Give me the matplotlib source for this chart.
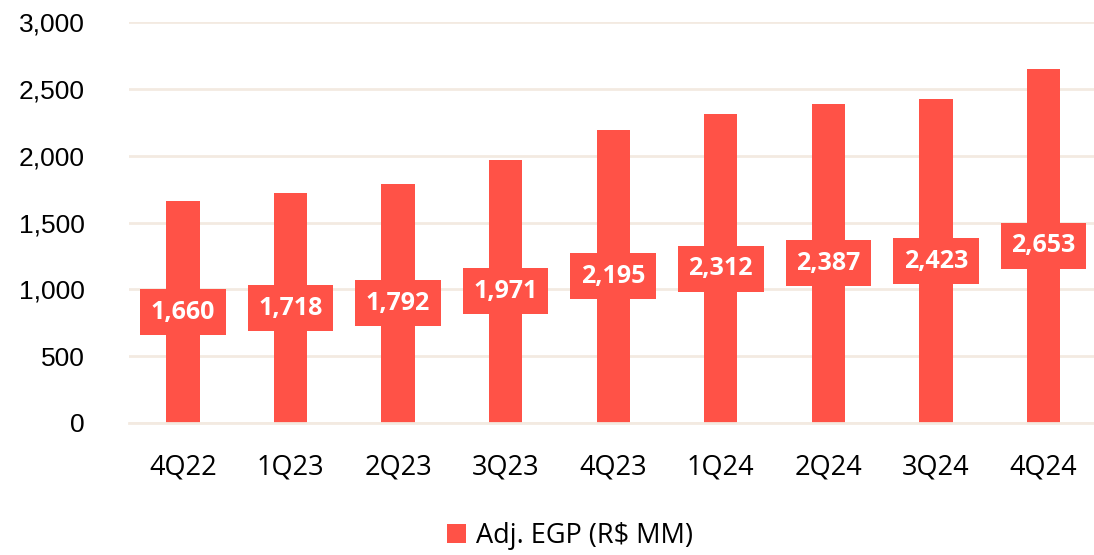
import matplotlib.pyplot as plt
from matplotlib.ticker import FuncFormatter

quarters = ["4Q22", "1Q23", "2Q23", "3Q23", "4Q23", "1Q24", "2Q24", "3Q24", "4Q24"]
adj_egp = [1660, 1718, 1792, 1971, 2195, 2312, 2387, 2423, 2653]

red = "#FF5247"
grid_col = "#F3EAE1"

fig = plt.figure(figsize=(10.94, 5.55), dpi=100)
ax = fig.add_axes([0.118, 0.238, 0.885, 0.722])

x = range(len(quarters))
ax.bar(x, adj_egp, width=0.31, color=red, zorder=2, label="Adj. EGP (R$ MM)")

# value labels sit at the middle of each bar
for i, v in zip(x, adj_egp):
    ax.text(i, v / 2, f"{v:,}", ha="center", va="center", color="white",
            fontsize=18, fontweight="bold", family="Open Sans", zorder=3,
            bbox=dict(boxstyle="square,pad=0.42", fc=red, ec="none"))

ax.set_ylim(0, 3000)
ax.set_xlim(-0.5, len(quarters) - 0.5)
ax.set_yticks(range(0, 3001, 500))
ax.yaxis.set_major_formatter(FuncFormatter(lambda v, p: f"{int(v):,}"))
ax.set_xticks(list(x))
ax.set_xticklabels(quarters, family="Open Sans", fontsize=19.5)
for lab in ax.get_yticklabels():
    lab.set_family("Liberation Sans")
    lab.set_fontsize(19)

ax.grid(axis="y", color=grid_col, linewidth=2, zorder=0)
for s in ["left", "right", "top"]:
    ax.spines[s].set_visible(False)
ax.spines["bottom"].set_color(grid_col)
ax.spines["bottom"].set_linewidth(2)
ax.tick_params(axis="both", length=0)
ax.tick_params(axis="y", pad=32)
ax.tick_params(axis="x", pad=22)

fig.legend(loc="center", bbox_to_anchor=(0.521, 0.034), frameon=False,
           prop={"family": "Open Sans", "size": 19.5}, handlelength=0.7, handleheight=0.7,
           handletextpad=0.4)

fig.savefig("out.png", dpi=100)
